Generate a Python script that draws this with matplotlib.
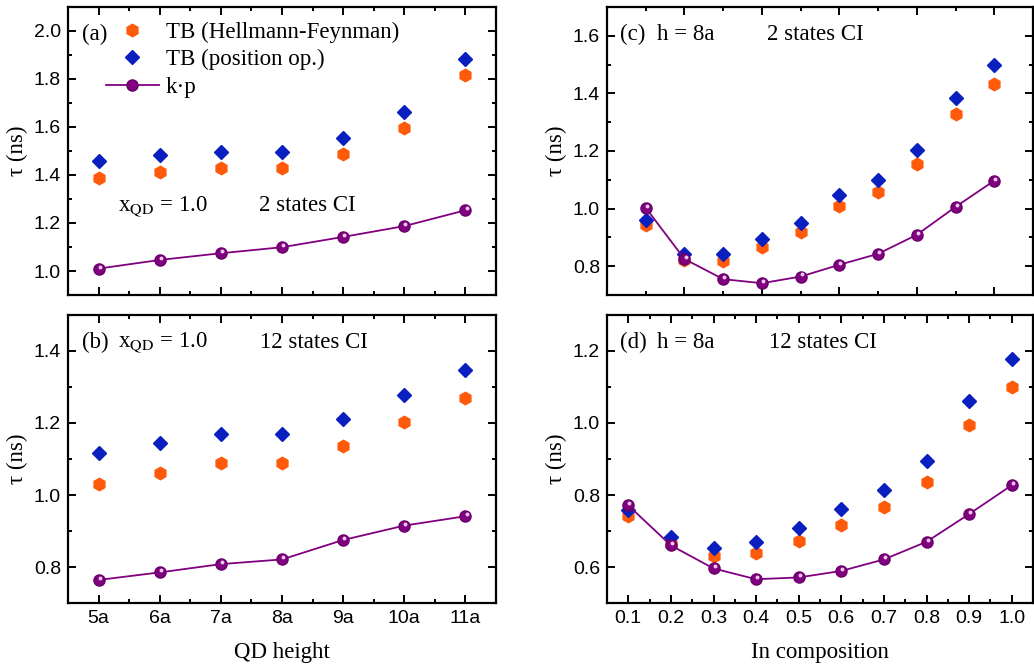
import numpy as np
import matplotlib
matplotlib.use("Agg")
import matplotlib.pyplot as plt
from matplotlib.ticker import MultipleLocator
import matplotlib.transforms as mtransforms

# ---- data ----
heights = [5, 6, 7, 8, 9, 10, 11]
height_labels = ["5a", "6a", "7a", "8a", "9a", "10a", "11a"]

a_hf = [1.388, 1.413, 1.428, 1.429, 1.489, 1.596, 1.815]
a_pos = [1.458, 1.483, 1.496, 1.496, 1.554, 1.661, 1.885]
a_kp = [1.010, 1.046, 1.074, 1.099, 1.142, 1.187, 1.253]

b_hf = [1.031, 1.062, 1.090, 1.090, 1.135, 1.203, 1.269]
b_pos = [1.116, 1.145, 1.170, 1.169, 1.212, 1.279, 1.346]
b_kp = [0.764, 0.785, 0.808, 0.821, 0.875, 0.915, 0.941]

comp = [0.1, 0.2, 0.3, 0.4, 0.5, 0.6, 0.7, 0.8, 0.9, 1.0]

c_hf = [0.944, 0.822, 0.819, 0.867, 0.918, 1.010, 1.059, 1.155, 1.330, 1.431]
c_pos = [0.959, 0.841, 0.841, 0.894, 0.950, 1.047, 1.100, 1.202, 1.384, 1.498]
c_kp = [1.003, 0.825, 0.755, 0.741, 0.764, 0.805, 0.843, 0.909, 1.006, 1.097]

d_hf = [0.743, 0.663, 0.630, 0.639, 0.672, 0.718, 0.766, 0.837, 0.994, 1.100]
d_pos = [0.759, 0.684, 0.654, 0.669, 0.708, 0.760, 0.815, 0.894, 1.060, 1.179]
d_kp = [0.771, 0.660, 0.596, 0.566, 0.571, 0.589, 0.621, 0.670, 0.747, 0.827]

ORANGE = "#ff5a0a"
BLUE = "#0a1fc0"
PURPLE = "#800080"
SERIF = "Liberation Serif"
FS = 16.5

plt.rcParams["font.family"] = "Liberation Sans"
plt.rcParams["mathtext.fontset"] = "stix"

fig = plt.figure(figsize=(10.34, 6.71), dpi=100)
W, H = 1034, 671


def make_ax(left, top, right, bottom):
    return fig.add_axes([left / W, 1 - bottom / H, (right - left) / W, (bottom - top) / H])


ax_a = make_ax(68, 7, 496, 295)
ax_b = make_ax(68, 315, 496, 603)
ax_c = make_ax(607, 7, 1033, 295)
ax_d = make_ax(607, 315, 1033, 603)


def draw(ax, x, hf, pos, kp):
    h1, = ax.plot(x, hf, linestyle="none", marker="h", ms=9, color=ORANGE, mec=ORANGE,
                  label="TB (Hellmann-Feynman)")
    h2, = ax.plot(x, pos, linestyle="none", marker="D", ms=7.2, color=BLUE, mec=BLUE,
                  label="TB (position op.)")
    h3, = ax.plot(x, kp, "-", lw=1.3, marker="o", ms=8, color=PURPLE, mfc=PURPLE,
                  mec="#6a006a", label="k\u00b7p")
    # little highlight to look like a shaded sphere
    off = mtransforms.offset_copy(ax.transData, fig=fig, x=0.8, y=1.5, units="points")
    ax.plot(x, kp, linestyle="none", marker="o", ms=2.8, color="#ecc8ec", mec="none",
            transform=off)
    return h1, h2, h3


def style(ax, ylim, ymaj, xlim):
    ax.set_xlim(*xlim)
    ax.set_ylim(*ylim)
    ax.yaxis.set_major_locator(MultipleLocator(ymaj))
    ax.yaxis.set_minor_locator(MultipleLocator(ymaj / 2))
    for s in ax.spines.values():
        s.set_linewidth(1.6)
    ax.tick_params(which="both", direction="in", top=True, right=True, width=1.4,
                   labelsize=14)
    ax.tick_params(which="major", length=6, pad=5)
    ax.tick_params(which="minor", length=3)
    ax.set_ylabel("\u03c4 (ns)", family=SERIF, fontsize=FS, labelpad=4)


handles = draw(ax_a, heights, a_hf, a_pos, a_kp)
draw(ax_b, heights, b_hf, b_pos, b_kp)
draw(ax_c, comp, c_hf, c_pos, c_kp)
draw(ax_d, comp, d_hf, d_pos, d_kp)

for ax, ylim in [(ax_a, (0.9, 2.1)), (ax_b, (0.7, 1.5))]:
    style(ax, ylim, 0.2, (4.5, 11.5))
    ax.set_xticks(heights)
    ax.xaxis.set_minor_locator(MultipleLocator(0.5))
ax_a.set_xticklabels([])
ax_b.set_xticklabels(height_labels)
ax_b.set_xlabel("QD height", family=SERIF, fontsize=FS, labelpad=11)

style(ax_c, (0.7, 1.7), 0.2, (0.0, 1.1))
ax_c.xaxis.set_major_locator(MultipleLocator(0.2))
ax_c.xaxis.set_minor_locator(MultipleLocator(0.1))
ax_c.set_xticklabels([])

style(ax_d, (0.5, 1.3), 0.2, (0.05, 1.05))
ax_d.set_xticks(comp)
ax_d.set_xticklabels([f"{v:.1f}" for v in comp])
ax_d.xaxis.set_minor_locator(MultipleLocator(0.05))
ax_d.set_xlabel("In composition", family=SERIF, fontsize=FS, labelpad=11)

ax_a.legend(handles=handles, loc="upper left", bbox_to_anchor=(0.089, 0.95),
            frameon=False, prop={"family": SERIF, "size": FS}, handlelength=2.3,
            handletextpad=0.3, labelspacing=0.28, borderpad=0, borderaxespad=0)

txt = dict(family=SERIF, fontsize=FS, va="center")
ax_a.text(0.033, 0.905, "(a)", transform=ax_a.transAxes, **txt)
ax_a.text(0.117, 0.31, r"x$_{\mathrm{QD}}$ = 1.0", transform=ax_a.transAxes, **txt)
ax_a.text(0.446, 0.31, "2 states CI", transform=ax_a.transAxes, **txt)

ax_b.text(0.033, 0.905, "(b)", transform=ax_b.transAxes, **txt)
ax_b.text(0.117, 0.905, r"x$_{\mathrm{QD}}$ = 1.0", transform=ax_b.transAxes, **txt)
ax_b.text(0.449, 0.905, "12 states CI", transform=ax_b.transAxes, **txt)

ax_c.text(0.03, 0.905, "(c)", transform=ax_c.transAxes, **txt)
ax_c.text(0.117, 0.905, "h = 8a", transform=ax_c.transAxes, **txt)
ax_c.text(0.375, 0.905, "2 states CI", transform=ax_c.transAxes, **txt)

ax_d.text(0.03, 0.905, "(d)", transform=ax_d.transAxes, **txt)
ax_d.text(0.117, 0.905, "h = 8a", transform=ax_d.transAxes, **txt)
ax_d.text(0.38, 0.905, "12 states CI", transform=ax_d.transAxes, **txt)

fig.savefig("out.png", dpi=100)
